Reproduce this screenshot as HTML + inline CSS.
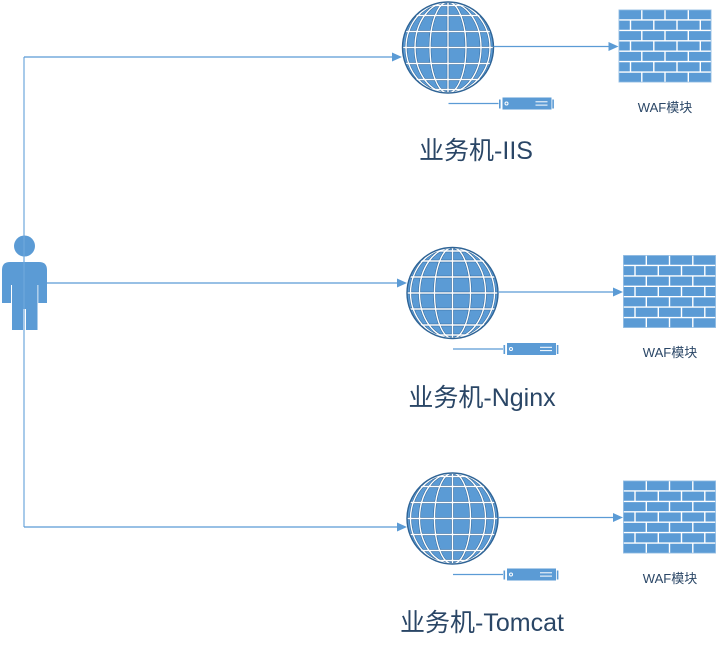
<!DOCTYPE html>
<html><head><meta charset="utf-8"><style>
html,body{margin:0;padding:0;background:#fff;}
svg{display:block;}
text{font-family:"Liberation Sans","Noto Sans CJK SC",sans-serif;fill:#2a4666;}
</style></head><body>
<svg width="718" height="649" viewBox="0 0 718 649" xmlns="http://www.w3.org/2000/svg">
<defs>
<clipPath id="gc"><circle cx="452.5" cy="293" r="45"/></clipPath>
<g id="globe">
  <circle cx="452.5" cy="293" r="45.5" fill="#5b9bd5"/>
  <g clip-path="url(#gc)" fill="none">
    <g stroke="#2f6496" stroke-width="2.4">
      <line x1="400" y1="293" x2="505" y2="293"/>
      <line x1="400" y1="277" x2="505" y2="277"/>
      <line x1="400" y1="309" x2="505" y2="309"/>
      <line x1="400" y1="261" x2="505" y2="261"/>
      <line x1="400" y1="325" x2="505" y2="325"/>
      <line x1="400" y1="251" x2="505" y2="251"/>
      <line x1="400" y1="335" x2="505" y2="335"/>
      <line x1="452.5" y1="245" x2="452.5" y2="341"/>
      <ellipse cx="452.5" cy="293" rx="18" ry="45.5"/>
      <ellipse cx="452.5" cy="293" rx="33" ry="45.5"/>
      <ellipse cx="452.5" cy="293" rx="42" ry="45.5"/>
    </g>
    <g stroke="#ffffff" stroke-width="1.4">
      <line x1="400" y1="293" x2="505" y2="293"/>
      <line x1="400" y1="277" x2="505" y2="277"/>
      <line x1="400" y1="309" x2="505" y2="309"/>
      <line x1="400" y1="261" x2="505" y2="261"/>
      <line x1="400" y1="325" x2="505" y2="325"/>
      <line x1="400" y1="251" x2="505" y2="251"/>
      <line x1="400" y1="335" x2="505" y2="335"/>
      <line x1="452.5" y1="245" x2="452.5" y2="341"/>
      <ellipse cx="452.5" cy="293" rx="18" ry="45.5"/>
      <ellipse cx="452.5" cy="293" rx="33" ry="45.5"/>
      <ellipse cx="452.5" cy="293" rx="42" ry="45.5"/>
    </g>
  </g>
  <circle cx="452.5" cy="293" r="45.5" fill="none" stroke="#2f6496" stroke-width="1.4"/>
</g>
<g id="server">
  <line x1="453" y1="349" x2="503" y2="349" stroke="#5b9bd5" stroke-width="1.2"/>
  <rect x="503.5" y="345" width="1.6" height="9" fill="#5b9bd5"/>
  <rect x="507" y="343" width="49" height="12" fill="#5b9bd5"/>
  <rect x="556.8" y="345" width="1.6" height="9" fill="#5b9bd5"/>
  <circle cx="511" cy="349" r="1.5" fill="none" stroke="#fff" stroke-width="1"/>
  <line x1="540" y1="347.3" x2="552" y2="347.3" stroke="#fff" stroke-width="1"/>
  <line x1="540" y1="350.6" x2="552" y2="350.6" stroke="#fff" stroke-width="1"/>
</g>
<g id="waf">
  <rect x="623" y="255" width="93" height="73" fill="#5b9bd5"/>
  <g stroke="#ffffff" stroke-width="1.4">
    <line x1="623" y1="265.4" x2="716" y2="265.4"/>
    <line x1="623" y1="275.9" x2="716" y2="275.9"/>
    <line x1="623" y1="286.3" x2="716" y2="286.3"/>
    <line x1="623" y1="296.7" x2="716" y2="296.7"/>
    <line x1="623" y1="307.1" x2="716" y2="307.1"/>
    <line x1="623" y1="317.6" x2="716" y2="317.6"/>
    <line x1="646.3" y1="255" x2="646.3" y2="265.4"/>
    <line x1="669.5" y1="255" x2="669.5" y2="265.4"/>
    <line x1="692.8" y1="255" x2="692.8" y2="265.4"/>
    <line x1="646.3" y1="275.9" x2="646.3" y2="286.3"/>
    <line x1="669.5" y1="275.9" x2="669.5" y2="286.3"/>
    <line x1="692.8" y1="275.9" x2="692.8" y2="286.3"/>
    <line x1="646.3" y1="296.7" x2="646.3" y2="307.1"/>
    <line x1="669.5" y1="296.7" x2="669.5" y2="307.1"/>
    <line x1="692.8" y1="296.7" x2="692.8" y2="307.1"/>
    <line x1="646.3" y1="317.6" x2="646.3" y2="328"/>
    <line x1="669.5" y1="317.6" x2="669.5" y2="328"/>
    <line x1="692.8" y1="317.6" x2="692.8" y2="328"/>
    <line x1="635" y1="265.4" x2="635" y2="275.9"/>
    <line x1="658.3" y1="265.4" x2="658.3" y2="275.9"/>
    <line x1="681.5" y1="265.4" x2="681.5" y2="275.9"/>
    <line x1="704.8" y1="265.4" x2="704.8" y2="275.9"/>
    <line x1="635" y1="286.3" x2="635" y2="296.7"/>
    <line x1="658.3" y1="286.3" x2="658.3" y2="296.7"/>
    <line x1="681.5" y1="286.3" x2="681.5" y2="296.7"/>
    <line x1="704.8" y1="286.3" x2="704.8" y2="296.7"/>
    <line x1="635" y1="307.1" x2="635" y2="317.6"/>
    <line x1="658.3" y1="307.1" x2="658.3" y2="317.6"/>
    <line x1="681.5" y1="307.1" x2="681.5" y2="317.6"/>
    <line x1="704.8" y1="307.1" x2="704.8" y2="317.6"/>
  </g>
  <rect x="623.4" y="255.4" width="92.2" height="72.2" fill="none" stroke="#9dc3e6" stroke-width="0.8"/>
  <line x1="498" y1="292" x2="614" y2="292" stroke="#5b9bd5" stroke-width="1.2"/>
  <polygon points="623,292 613,287.5 613,296.5" fill="#5b9bd5"/>
</g>
</defs>

<!-- person -->
<g fill="#5b9bd5">
  <circle cx="24.5" cy="246" r="10.5"/>
  <path d="M2 285 L2 270 Q2 262 10 262 L39 262 Q47 262 47 270 L47 285 Z"/>
  <rect x="2" y="284" width="9" height="19"/>
  <rect x="38" y="284" width="9" height="19"/>
  <rect x="12" y="284" width="25.5" height="25"/>
  <rect x="12" y="307" width="11" height="23"/>
  <rect x="26" y="307" width="11.5" height="23"/>
</g>
<rect x="11" y="285" width="1" height="18" fill="#fff"/>
<rect x="37.5" y="285" width="0.8" height="18" fill="#fff"/>

<!-- connectors from person -->
<g stroke="#5b9bd5" stroke-width="1.2" fill="none">
  <line x1="24" y1="57" x2="24" y2="527" stroke="#6fa8dc"/>
  <line x1="24" y1="57" x2="393" y2="57"/>
  <line x1="47" y1="283" x2="398" y2="283"/>
  <line x1="24" y1="527" x2="398" y2="527"/>
</g>
<g fill="#5b9bd5">
  <polygon points="402,57 392,52.5 392,61.5"/>
  <polygon points="407,283 397,278.5 397,287.5"/>
  <polygon points="407,527 397,522.5 397,531.5"/>
</g>

<!-- group 1 -->
<g transform="translate(-4.5,-245.5)">
  <use href="#globe"/>
  <use href="#server"/>
  <use href="#waf"/>
</g>
<!-- group 2 -->
<g>
  <use href="#globe"/>
  <use href="#server"/>
  <use href="#waf"/>
</g>
<!-- group 3 -->
<g transform="translate(0,225.5)">
  <use href="#globe"/>
  <use href="#server"/>
  <use href="#waf"/>
</g>

<!-- labels -->
<text x="665" y="112" font-size="13" text-anchor="middle">WAF模块</text>
<text x="670" y="357" font-size="13" text-anchor="middle">WAF模块</text>
<text x="670" y="583" font-size="13" text-anchor="middle">WAF模块</text>

<text x="476" y="159" font-size="25" text-anchor="middle">业务机-IIS</text>
<text x="482" y="406" font-size="25" text-anchor="middle">业务机-Nginx</text>
<text x="482" y="631" font-size="25" text-anchor="middle">业务机-Tomcat</text>
</svg>
</body></html>
